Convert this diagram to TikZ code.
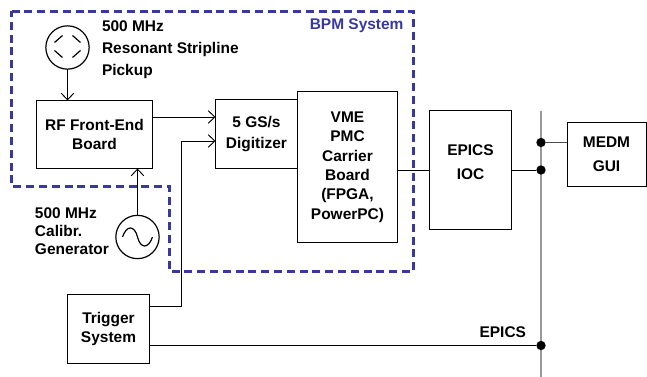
\documentclass[tikz,border=0pt]{standalone}
\usepackage{fontspec}
\setmainfont{Liberation Sans}
\usetikzlibrary{arrows.meta,positioning}
\definecolor{bpmblue}{HTML}{38389F}
\tikzset{
>={Straight Barb[length=5pt,width=9.5pt]},
  block/.style={
    rectangle,
    draw=black, line width=.75pt,
    inner sep=0pt, outer sep=0pt,
    align=center,
    font=\fontsize{11.6}{14.5}\selectfont\bfseries},
  label/.style={
    inner sep=0pt, outer sep=0pt,
    align=left,
    font=\fontsize{11.6}{14.5}\selectfont\bfseries},
  source/.style={
    circle,
    draw=black, line width=.9pt,
    inner sep=0pt, outer sep=0pt,
    minimum size=32.5pt},
  line/.style={draw, line width=.7pt},
  bus/.style={draw=black!40, line width=1pt},
  junction/.style={
    circle,
    fill=black,
    inner sep=0pt,
    minimum size=7pt},
  system/.style={draw=bpmblue, line width=2.25pt, dash pattern=on 6pt off 3.6pt},
}
\begin{document}
\begin{tikzpicture}[x=.75pt,y=-.75pt]
    \useasboundingbox (0,0) rectangle (647,377);

    % blocks
    \node[block, minimum width=87pt, minimum height=51pt] (rf) at (94.5,134.5) {RF Front-End\\Board};
    \node[block, minimum width=61.5pt, minimum height=51.75pt] (digit) at (256.5,134) {5 GS/s\\[1.25pt]Digitizer};
    \node[block, minimum width=75pt, minimum height=113.25pt, anchor=north west] (vme) at (297.5,91.5)
      {VME\\PMC\\Carrier\\Board\\(FPGA,\\PowerPC)};
    \node[block, minimum width=61.5pt, minimum height=89.25pt, anchor=north west] (ioc) at (429.5,110.5)
      {EPICS\\[3.5pt]IOC\\[-2.9pt]\mbox{}};
    \node[block, minimum width=59.25pt, minimum height=47.5pt] (medm) at (606.5,154.5) {MEDM\\[3.5pt]GUI};
    \node[block, minimum width=61.5pt, minimum height=51.75pt] (trig) at (108.5,329) {Trigger\\System};

    % sources
    \node[source] (pickup) at (67.5,47.5) {};
    \node[source] (gen) at (137.5,237) {};
    \begin{scope}[shift={(pickup.center)}, line width=.9pt]
      \draw (-13,-5) -- (-5,-12);
      \draw (5,-12) -- (13,-5);
      \draw (-13,3) -- (-5,10);
      \draw (5,10) -- (13,3);
    \end{scope}
    \begin{scope}[shift={(gen.center)}, line width=.9pt]
      \draw (-15,0) .. controls (-11,-12) and (-3,-12) .. (0,0)
        .. controls (3,12) and (11,12) .. (15,0);
    \end{scope}

    % texts
    \node[label, anchor=north west] (pickup-text) at (102,21) {500 MHz\\[2pt]Resonant Stripline\\[2pt]Pickup};
    \node[label, anchor=north west] (gen-text) at (35,208) {500 MHz\\[-1pt]Calibr.\\[-1pt]Generator};
    \node[label, anchor=east, text=bpmblue] (bpm-text) at (403.5,25.5) {BPM System};
    \node[label, anchor=east] (epics-text) at (526,332.5) {EPICS};

    % bus
    \coordinate (bus-top) at (541,111);
    \coordinate (bus-bottom) at (541,377);
    \draw[bus] (bus-top) -- (bus-bottom);
    \node[junction] (dot-medm) at (541,142.5) {};
    \node[junction] (dot-ioc) at (541,170) {};
    \node[junction] (dot-trig) at (541,345.5) {};

    % inputs of the digitizer
    \coordinate (digit-upper) at (digit.west |- 0,117);
    \coordinate (digit-lower) at (digit.west |- 0,141);
    \coordinate (trig-out) at (trig.east |- 0,306);
    \coordinate (trig-riser) at (181.5,306);

    \draw[line,->] (pickup) -- (rf.north -| pickup);
    \draw[line,->] (gen) -- (rf.south -| gen);
    \draw[line,->] (rf.east |- digit-upper) -- (digit-upper);
    \draw[line,->] (trig-out) -- (trig-riser) |- (digit-lower);

    \draw[line] (vme.east |- dot-ioc) -- (ioc.west |- dot-ioc);
    \draw[line] (ioc.east |- dot-ioc) -- (dot-ioc);
    \draw[line, draw=black!70, line width=1pt] (dot-medm) -- (medm.west |- dot-medm);
    \draw[line] (trig.east |- dot-trig) -- (dot-trig);

    % system border
    \draw[system] (11.5,11.5) -- (413.5,11.5) -- (413.5,271.5) -- (169.5,271.5) -- (169.5,186.5) -- (11.5,186.5) -- cycle;
\end{tikzpicture}
\end{document}
